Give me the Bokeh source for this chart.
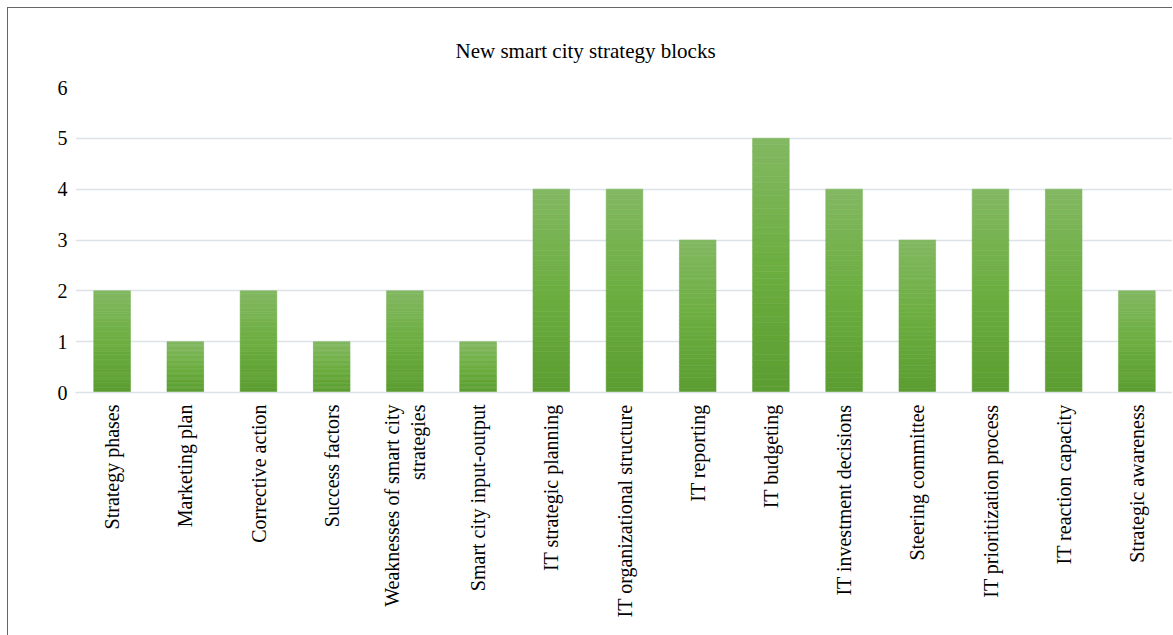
from bokeh.plotting import figure
from bokeh.embed import file_html
from bokeh.resources import INLINE
from bokeh.models import ColumnDataSource

categories = ["Strategy phases", "Marketing plan", "Corrective action", "Success factors",
              "Weaknesses of smart city\nstrategies", "Smart city input-output",
              "IT strategic planning", "IT organizational structure", "IT reporting",
              "IT budgeting", "IT investment decisions", "Steering committee",
              "IT prioritization process", "IT reaction capacity", "Strategic awareness"]
values = [2, 1, 2, 1, 2, 1, 4, 4, 3, 5, 4, 3, 4, 4, 2]
y_ticks = [0, 1, 2, 3, 4, 5, 6]

FONT = "Liberation Serif"

p = figure(x_range=categories, y_range=(0, 6), width=1165, height=628,
           output_backend="svg", toolbar_location=None,
           min_border_left=67, min_border_right=0, min_border_top=79, min_border_bottom=244)
p.margin = (7, 0, 0, 7)

# gradient simulated with horizontal bands (derived from each bar's value)
N = 40
bottom_c = (92, 157, 49)
mid_c = (108, 174, 64)
top_c = (131, 184, 98)
def lerp(a, b, t):
    return tuple(int(round(a[i] + (b[i] - a[i]) * t)) for i in range(3))
xs, bots, tops, cols = [], [], [], []
for c, v in zip(categories, values):
    for i in range(N):
        t = (i + 0.5) / N
        col = lerp(bottom_c, mid_c, t / 0.5) if t < 0.5 else lerp(mid_c, top_c, (t - 0.5) / 0.5)
        xs.append(c)
        bots.append(v * i / N)
        tops.append(v * (i + 1) / N)
        cols.append("#%02x%02x%02x" % col)
src = ColumnDataSource(dict(x=xs, bottom=bots, top=tops, color=cols))
p.vbar(x="x", bottom="bottom", top="top", width=0.5, source=src,
       fill_color="color", line_color="color", line_width=0.6)

p.title.text = "New smart city strategy blocks"
p.title.align = "left"
p.title.offset = 380
p.title.text_font = FONT
p.title.text_font_size = "21px"
p.title.text_font_style = "normal"
p.title.text_color = "#000000"
p.title.standoff = 50

p.yaxis.ticker = y_ticks
p.yaxis.major_label_text_font = FONT
p.yaxis.major_label_text_font_size = "20px"
p.yaxis.major_label_text_color = "#000000"
p.yaxis.axis_line_color = None
p.yaxis.major_tick_line_color = None
p.yaxis.minor_tick_line_color = None
p.yaxis.major_label_standoff = 2

p.xaxis.major_label_orientation = 1.5708
p.xaxis.major_label_text_font = FONT
p.xaxis.major_label_text_font_size = "20px"
p.xaxis.major_label_text_color = "#000000"
p.xaxis.axis_line_color = "#dde1e8"
p.xaxis.axis_line_width = 1.5
p.xaxis.major_tick_line_color = None
p.xaxis.minor_tick_line_color = None
p.xaxis.major_label_standoff = 6

p.xgrid.grid_line_color = None
p.ygrid.grid_line_color = "#dde1e8"
p.ygrid.grid_line_width = 1.5
p.outline_line_color = None
p.x_range.range_padding = 0
p.styles = {"border-left": "1px solid #666666", "border-top": "1px solid #666666"}

open("out.html", "w").write(file_html(p, INLINE))
